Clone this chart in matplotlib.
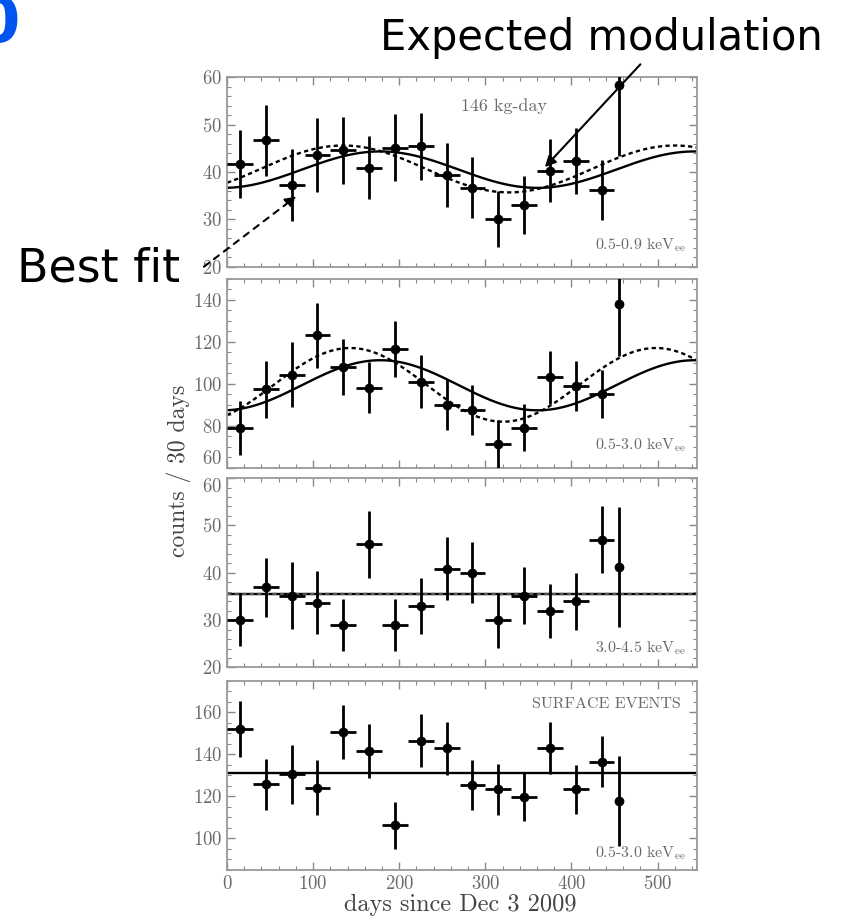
import numpy as np
import matplotlib
matplotlib.use('Agg')
import matplotlib.pyplot as plt
from matplotlib.ticker import MultipleLocator

plt.rcParams['font.family'] = ['cmr10', 'DejaVu Serif']
plt.rcParams['mathtext.fontset'] = 'cm'
plt.rcParams['axes.formatter.use_mathtext'] = True

# ---- data ----
days = [15, 45, 75, 105, 135, 165, 195, 225, 255, 285, 315, 345, 375, 405, 435, 455]
day_err = [15] * 15 + [4]

# 0.5-0.9 keVee
c1 = [41.7, 46.7, 37.2, 43.6, 44.6, 40.9, 45.1, 45.4, 39.4, 36.7, 30.0, 33.0, 40.3, 42.3, 36.2, 58.4]
e1 = [7.1, 7.5, 7.6, 7.9, 7.1, 6.7, 7.1, 7.1, 6.7, 6.4, 5.9, 6.1, 6.6, 7.0, 6.3, 15.0]
# 0.5-3.0 keVee
c2 = [79.0, 97.4, 104.4, 123.1, 108.0, 98.2, 116.6, 101.0, 90.1, 87.6, 71.4, 79.2, 103.1, 99.0, 95.0, 138.0]
e2 = [13.0, 13.5, 15.5, 15.5, 13.3, 12.2, 13.3, 12.5, 12.2, 11.9, 11.4, 11.0, 12.5, 12.0, 11.4, 25.0]
# 3.0-4.5 keVee
c3 = [30.0, 36.9, 35.2, 33.7, 29.0, 46.0, 29.0, 33.0, 40.9, 40.0, 30.0, 35.2, 32.0, 34.0, 47.0, 41.2]
e3 = [5.5, 6.2, 7.0, 6.7, 5.5, 7.0, 5.5, 6.0, 6.6, 6.4, 5.8, 6.0, 5.7, 6.0, 7.0, 12.6]
# surface events 0.5-3.0 keVee
c4 = [151.9, 125.7, 130.5, 124.1, 150.5, 141.6, 106.3, 146.5, 142.9, 125.4, 123.3, 119.8, 142.9, 123.3, 136.5, 117.8]
e4 = [13.2, 12.1, 14.0, 13.0, 12.9, 12.7, 11.1, 12.7, 12.6, 12.0, 12.2, 11.3, 12.4, 11.7, 12.2, 21.5]

# modulation curves: (offset, amplitude, peak day, period)
fit1 = (40.5, 3.85, 178, 365)
exp1 = (40.65, 4.95, 135, 385)
fit2 = (99.3, 11.9, 178, 365)
exp2 = (99.5, 17.5, 143, 355)
flat3 = 35.6
flat4 = 131.0

ylims = [(20, 60), (60, 150), (20, 60), (85, 175)]
yticks = [[20, 30, 40, 50, 60], [60, 80, 100, 120, 140], [20, 30, 40, 50, 60], [100, 120, 140, 160]]
yminor = [2, 5, 2, 5]
bottoms = [0.7088, 0.4891, 0.2713, 0.0502]
energy = [r'0.5-0.9 keV$_{\rm ee}$', r'0.5-3.0 keV$_{\rm ee}$',
          r'3.0-4.5 keV$_{\rm ee}$', r'0.5-3.0 keV$_{\rm ee}$']
energy_y = [0.115, 0.12, 0.10, 0.09]


def cosine(t, p):
    off, amp, peak, period = p
    return off + amp * np.cos(2 * np.pi * (t - peak) / period)


fig = plt.figure(figsize=(8.44, 9.16), dpi=100)
axes = []
for i in range(4):
    ax = fig.add_axes([0.269, bottoms[i], 0.557, 0.2068])
    ax.set_xlim(0, 546)
    ax.set_ylim(*ylims[i])
    ax.set_yticks(yticks[i])
    ax.yaxis.set_minor_locator(MultipleLocator(yminor[i]))
    ax.xaxis.set_major_locator(MultipleLocator(100))
    ax.xaxis.set_minor_locator(MultipleLocator(20))
    ax.tick_params(which='both', direction='in', top=True, right=True, color='#888888',
                   labelcolor='#6a6a6a', labelsize=13.5)
    ax.tick_params(which='major', length=6, width=1.0)
    ax.tick_params(which='minor', length=3, width=0.8)
    for s in ax.spines.values():
        s.set_color('#999999')
        s.set_linewidth(1.3)
    if i < 3:
        ax.set_xticklabels([])
    ax.text(0.976, energy_y[i], energy[i], transform=ax.transAxes, ha='right', va='center',
            fontsize=11.5, color='#6a6a6a')
    axes.append(ax)

# the two "60" labels where panels 2 and 3 meet sit pushed inward
axes[1].get_yticklabels()[0].set_va('bottom')
axes[2].get_yticklabels()[-1].set_va('top')

t = np.linspace(0, 546, 400)
counts = [c1, c2, c3, c4]
errs = [e1, e2, e3, e4]
for ax, c, e in zip(axes, counts, errs):
    ax.errorbar(days, c, yerr=e, xerr=day_err, fmt='o', color='black', ms=6,
                elinewidth=2.0, capsize=0, zorder=3)

axes[0].plot(t, cosine(t, fit1), color='black', lw=1.7)
axes[0].plot(t, cosine(t, exp1), color='black', lw=1.7, ls=(0, (1.8, 1.4)))
axes[1].plot(t, cosine(t, fit2), color='black', lw=1.7)
axes[1].plot(t, cosine(t, exp2), color='black', lw=1.7, ls=(0, (1.8, 1.4)))
axes[2].axhline(flat3, color='black', lw=1.7)
axes[2].axhline(flat3, color='#555555', lw=1.7, ls=(0, (1.8, 1.4)))
axes[3].axhline(flat4, color='black', lw=1.7)

gray = '#6a6a6a'
axes[0].text(0.59, 0.85, '146 kg-day', transform=axes[0].transAxes, ha='center', va='center',
             fontsize=13, color=gray)
axes[3].text(0.965, 0.878, 'SURFACE EVENTS', transform=axes[3].transAxes, ha='right', va='center',
             fontsize=11.5, color=gray)

fig.text(0.212, 0.486, 'counts / 30 days', rotation=90, ha='center', va='center', fontsize=17, color='#444444')
fig.text(0.545, 0.012, 'days since Dec 3 2009', ha='center', va='center', fontsize=17.5, color='#444444')

# annotations
fig.text(0.713, 0.958, 'Expected modulation', ha='center', va='center', fontsize=30,
         family=['DejaVu Sans'], color='black')
axes[0].annotate('', xy=(367, 40.6), xycoords='data', xytext=(0.761, 0.932),
                 textcoords='figure fraction', annotation_clip=False,
                 arrowprops=dict(arrowstyle='-|>', color='black', lw=1.5, mutation_scale=16))
fig.text(0.117, 0.706, 'Best fit', ha='center', va='center', fontsize=33,
         family=['DejaVu Sans'], color='black')
axes[0].annotate('', xy=(83, 35.2), xycoords='data', xytext=(0.239, 0.707),
                 textcoords='figure fraction', annotation_clip=False,
                 arrowprops=dict(arrowstyle='-|>', color='black', lw=1.5, ls=(0, (3, 3)),
                                 mutation_scale=16))

fig.text(-0.028, 1.008, '0', ha='left', va='top', fontsize=46, weight='bold',
         family=['DejaVu Sans'], color='#0055ee')

fig.savefig('out.png', dpi=100)
